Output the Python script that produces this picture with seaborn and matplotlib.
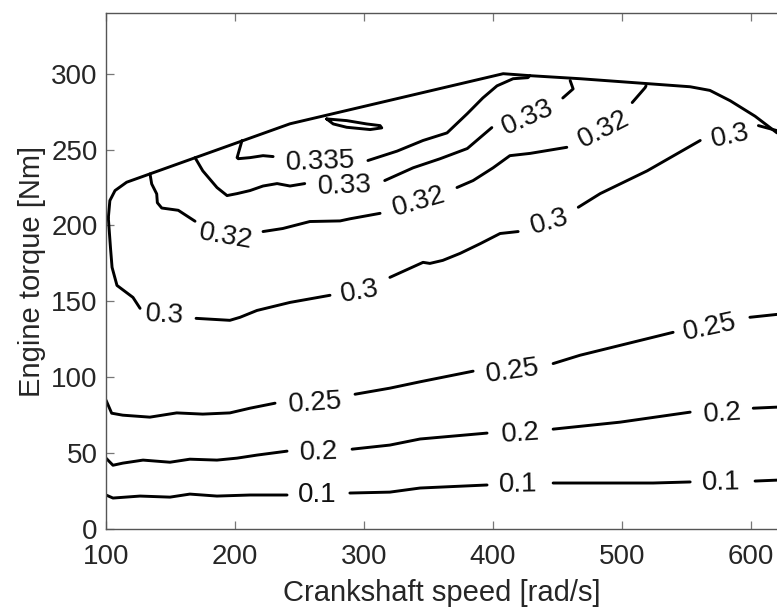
import numpy as np
import pandas as pd
import matplotlib
matplotlib.use("Agg")
import matplotlib.pyplot as plt
import seaborn as sns

# ---------------- data ----------------
# Max-torque boundary (speed [rad/s], torque [Nm])
boundary_speed = [101.8, 103.0, 107.0, 116.0, 242.6, 407.8, 428.7, 467.4, 552.7, 568.0, 583.7, 603.0, 620.0]
boundary_torque = [205.0, 216.4, 223.0, 228.5, 267.0, 300.0, 298.7, 296.7, 291.4, 289.0, 282.2, 272.0, 261.0]

# Efficiency contour pieces (broken where the inline labels sit)
c010_speed = [[100, 105.4, 126.4, 149.6, 165, 186, 211.6, 240.3],
              [289, 320, 343.4, 395.3],
              [446.5, 524, 552.7],
              [603, 620]]
c010_torque = [[22.4, 20.4, 21.7, 21.0, 23.0, 21.7, 22.4, 22.4],
               [23.7, 24.3, 27.0, 29.0],
               [30.3, 30.3, 31.0],
               [31.6, 32.2]]

c020_speed = [[100, 105.4, 113, 128.7, 149.6, 165, 186, 201.6, 217, 240.3],
              [290.7, 320, 343.4, 395.3],
              [446.5, 498.4, 552.7],
              [601.6, 620]]
c020_torque = [[46.7, 42.0, 43.4, 45.4, 44.0, 46.0, 45.4, 46.7, 48.7, 51.3],
               [52.6, 55.3, 59.3, 63.2],
               [65.8, 70.4, 77.0],
               [79.6, 80.3]]

c025_speed = [[100, 104.4, 113, 134, 154.8, 175, 196, 211.6, 231],
              [293, 320, 343.4, 384.5],
              [446.5, 467.4, 539.5],
              [599, 620]]
c025_torque = [[84.9, 76.3, 75.0, 73.7, 76.5, 75.7, 76.5, 79.6, 82.9],
               [88.8, 92.8, 97.0, 104.0],
               [109.0, 114.5, 129.6],
               [139.5, 141.4]]

c030_speed = [[101.8, 103.5, 104.7, 108.5, 120.9, 126.4],
              [169.8, 196, 203.9, 217, 242.6, 273.6],
              [320, 345.7, 351, 361, 374.4, 390, 405.4, 419.4],
              [466, 483, 519.4, 560.5],
              [605.6, 620]]
c030_torque = [[205.0, 185.0, 172.4, 160.5, 152.6, 145.4],
               [138.8, 137.5, 139.5, 144.0, 149.3, 154.0],
               [165.8, 175.7, 175.0, 177.0, 181.6, 188.0, 194.7, 196.0],
               [212.0, 221.0, 236.0, 256.0],
               [265.8, 262.5]]

c032_speed = [[134.1, 135.4, 139.3, 139.8, 143.2, 156, 169],
              [221.7, 237, 258, 281.4, 289.1, 312.4],
              [372, 384.5, 400, 413, 428.7, 457.1],
              [507.8, 517.8, 518.5]]
c032_torque = [[234.0, 227.4, 220.8, 215.0, 211.5, 210.0, 202.8],
               [196.0, 198.0, 202.6, 203.0, 204.4, 208.0],
               [225.0, 229.6, 238.0, 246.0, 247.5, 251.5],
               [281.0, 290.8, 292.0]]

c033_speed = [[169, 175, 186, 193.8, 201.6, 211.6, 221.7, 232.6, 242.6, 254],
              [316, 338, 359, 380, 399],
              [454, 462, 459.7]]
c033_torque = [[244.7, 236.0, 225.0, 219.7, 221.0, 223.0, 226.0, 227.6, 226.0, 227.6],
               [229.6, 238.0, 244.0, 250.7, 264.5],
               [284.0, 290.0, 295.5]]

c0335_speed = [[205.4, 201.6, 202.5, 211.6, 221.7, 229.5],
               [303, 325.6, 345.7, 364.3, 380, 392, 403, 415.5, 427, 428.5],
               [271.0, 286.5, 302.0, 312.4, 313.7, 304.7, 286.5, 276.1, 271.0]]
c0335_torque = [[256.0, 244.7, 244.0, 244.7, 246.0, 245.4],
                [242.8, 249.0, 256.0, 261.0, 273.7, 284.0, 292.0, 296.7, 297.4, 298.8],
                [270.2, 269.1, 266.9, 265.8, 264.3, 263.2, 264.7, 266.9, 270.2]]

# Inline contour labels
label_text = ["0.1", "0.1", "0.1", "0.2", "0.2", "0.2", "0.25", "0.25", "0.25",
              "0.3", "0.3", "0.3", "0.3", "0.32", "0.32", "0.32", "0.33", "0.33", "0.335"]
label_speed = [263.6, 419.4, 576.7, 265.0, 421.0, 577.5, 262.0, 415.5, 568.0,
               145.7, 296.9, 444.0, 583.7, 193.0, 342.6, 486.0, 285.0, 427.0, 265.9]
label_torque = [22.4, 29.0, 30.3, 50.7, 63.0, 76.3, 83.0, 104.0, 133.0,
                140.8, 156.6, 202.0, 259.0, 192.8, 215.8, 263.0, 226.0, 271.0, 242.0]
label_angle = [0, 1, 1, 2, 4, 4, 4, 8, 12,
               -3, 10, 16, 12, -10, 16, 27, 2, 24, 2]

x_ticks = [100, 200, 300, 400, 500, 600]
y_ticks = [0, 50, 100, 150, 200, 250, 300]

# ---------------- drawing ----------------
sns.set_theme(style="ticks")
plt.rcParams['font.family'] = ['Liberation Sans', 'DejaVu Sans']

fig = plt.figure(figsize=(7.77, 6.12), dpi=100)
ax = fig.add_axes([106 / 777, 1 - 529 / 612, 1 - 106 / 777, (529 - 13) / 612])

line_kw = dict(color="black", linewidth=2.1, sort=False, estimator=None, legend=False)

def draw(xs, ys):
    df = pd.DataFrame({"speed": xs, "torque": ys})
    sns.lineplot(data=df, x="speed", y="torque", ax=ax, **line_kw)

draw(boundary_speed, boundary_torque)
for sp_list, tq_list in [(c010_speed, c010_torque), (c020_speed, c020_torque),
                         (c025_speed, c025_torque), (c030_speed, c030_torque),
                         (c032_speed, c032_torque), (c033_speed, c033_torque),
                         (c0335_speed, c0335_torque)]:
    for xs, ys in zip(sp_list, tq_list):
        draw(xs, ys)

for t, xv, yv, ang in zip(label_text, label_speed, label_torque, label_angle):
    ax.text(xv, yv, t, rotation=ang, ha="center", va="center",
            fontsize=20, color="#111111")

ax.set_xlim(100, 620)
ax.set_ylim(0, 340)
ax.set_xticks(x_ticks)
ax.set_yticks(y_ticks)
ax.tick_params(direction="in", length=6, width=0.9, color="#777777",
               labelsize=20, labelcolor="#262626", top=True, right=False)
ax.tick_params(axis="x", pad=11)
ax.tick_params(axis="y", pad=6)
for side in ["left", "bottom", "top"]:
    ax.spines[side].set_visible(True)
    ax.spines[side].set_color("#555555")
    ax.spines[side].set_linewidth(1.0)
ax.spines["right"].set_visible(False)

ax.set_xlabel("Crankshaft speed [rad/s]", fontsize=21, color="#262626", labelpad=6)
ax.set_ylabel("Engine torque [Nm]", fontsize=21, color="#262626", labelpad=4)

fig.savefig("out.png", dpi=100)
